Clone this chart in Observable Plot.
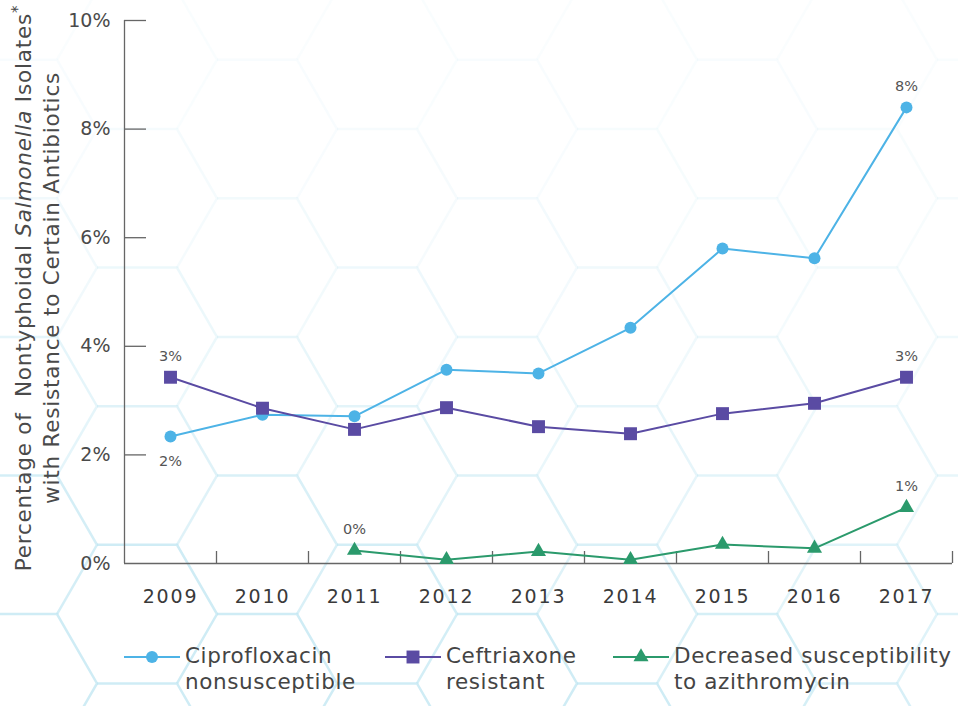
<!DOCTYPE html>
<html>
<head>
<meta charset="utf-8">
<script src="https://cdn.jsdelivr.net/npm/d3@7"></script>
<script src="https://cdn.jsdelivr.net/npm/@observablehq/plot@0.6"></script>
<style>
  body { margin: 0; background: #fff; }
  #page { position: relative; width: 958px; height: 706px; overflow: hidden; font-family: "DejaVu Sans", sans-serif; }
  #hex, #chart, #legend { position: absolute; left: 0; top: 0; }
  #legend { width: 958px; height: 706px; }
  .item { position: absolute; display: flex; align-items: flex-start; }
  .item .label { font-family: "DejaVu Sans", sans-serif; font-size: 21.5px; letter-spacing: 0.6px; line-height: 26px; color: #444; white-space: nowrap; }
</style>
</head>
<body>
<div id="page">
  <svg id="hex" width="958" height="706"></svg>
  <div id="chart"></div>
  <div id="legend"></div>
</div>
<script>
// Survey years and the share (%) of isolates in each resistance category
const years = [2009, 2010, 2011, 2012, 2013, 2014, 2015, 2016, 2017];
const ciprofloxacin = [2.34, 2.74, 2.71, 3.57, 3.50, 4.34, 5.80, 5.62, 8.40];
const ceftriaxone = [3.43, 2.86, 2.47, 2.87, 2.52, 2.39, 2.76, 2.95, 3.43];
const azithromycin = [null, null, 0.24, 0.07, 0.22, 0.07, 0.35, 0.28, 1.03];

const seriesNames = ["Ciprofloxacin nonsusceptible", "Ceftriaxone resistant", "Decreased susceptibility to azithromycin"];
const legendLines = [["Ciprofloxacin", "nonsusceptible"], ["Ceftriaxone", "resistant"], ["Decreased susceptibility", "to azithromycin"]];
const seriesColors = ["#4db3e6", "#5a4ba3", "#2b9a6c"];
const seriesSymbols = ["circle", "square", "triangle"];
const seriesRadius = [6, 7.3, 5.6];
const yTicks = [0, 2, 4, 6, 8, 10];

// Points that carry a value label: [series index, year, placement]
const labeledPoints = [
  [0, 2009, "below"], [1, 2009, "above"], [2, 2011, "above"],
  [0, 2017, "above"], [1, 2017, "above"], [2, 2017, "above"]
];

const valuesBySeries = [ciprofloxacin, ceftriaxone, azithromycin];
const rows = [];
valuesBySeries.forEach((vals, s) => {
  vals.forEach((v, i) => {
    if (v != null) rows.push({series: seriesNames[s], idx: s, year: years[i], value: v});
  });
});
const labels = labeledPoints.map(([s, yr, place]) => {
  const r = rows.find(d => d.idx === s && d.year === yr);
  return {...r, place};
});
const pct = v => d3.format(".0f")(v) + "%";
const boundaries = d3.range(years[0] - 0.5, years[years.length - 1] + 1, 1);

// Faint hexagonal backdrop, strongest toward the lower left.
// Each cell draws only its top, upper-right and lower-right edges so shared edges are drawn once.
(function drawHexes() {
  const s = 80, h = s * Math.sqrt(3) / 2;
  const svg = d3.select("#hex");
  for (let k = -7; k <= 3; k++) {
    for (let m = -1; m <= 6; m++) {
      const cx = 737 + 120 * k;
      const cy = 129 + 138.6 * m + (Math.abs(k) % 2 ? 69.3 : 0);
      const pts = [[cx - s / 2, cy - h], [cx + s / 2, cy - h], [cx + s, cy], [cx + s / 2, cy + h]];
      const t = Math.max(0, Math.min(1, cy / 706));
      const op = Math.max(0.08, Math.min(0.75, 0.08 + t * t * (1 - 0.5 * cx / 958)));
      svg.append("path")
        .attr("d", "M" + pts.join("L"))
        .attr("fill", "none")
        .attr("stroke", "#bfe6f2")
        .attr("stroke-width", 2.5)
        .attr("opacity", op);
    }
  }
})();

const plot = Plot.plot({
  width: 958,
  height: 625,
  marginLeft: 124,
  marginRight: 6,
  marginTop: 20,
  marginBottom: 62,
  style: {background: "transparent", fontFamily: "'DejaVu Sans', sans-serif", overflow: "visible"},
  x: {type: "linear", domain: [years[0] - 0.5, years[years.length - 1] + 0.5], label: null},
  y: {domain: [0, 10], label: null},
  marks: [
    Plot.ruleX(boundaries.slice(1), {stroke: "#666", strokeWidth: 1.3, insetTop: 531}),
    Plot.ruleY(yTicks.slice(1), {stroke: "#666", strokeWidth: 1.3, insetRight: 806}),
    Plot.ruleX([boundaries[0]], {stroke: "#666", strokeWidth: 1.3}),
    Plot.ruleY([0], {stroke: "#666", strokeWidth: 1.3}),
    Plot.axisY(yTicks, {label: null, tickSize: 0, tickPadding: 14, tickFormat: d => d + "%", fontSize: 19, fill: "#4a4a4a"}),
    Plot.axisX(years, {label: null, tickSize: 0, tickPadding: 26, tickFormat: d => String(d), fontSize: 19, fill: "#3a3a3a"}),
    ...seriesNames.map((name, s) =>
      Plot.line(rows.filter(d => d.idx === s), {x: "year", y: "value", stroke: seriesColors[s], strokeWidth: 2})
    ),
    ...seriesNames.map((name, s) =>
      Plot.dot(rows.filter(d => d.idx === s), {
        x: "year", y: "value", r: seriesRadius[s], symbol: seriesSymbols[s],
        fill: seriesColors[s], stroke: "none"
      })
    ),
    Plot.text(labels.filter(d => d.place === "above"), {x: "year", y: "value", text: d => pct(d.value), dy: -21, fontSize: 14.5, fill: "#555"}),
    Plot.text(labels.filter(d => d.place === "below"), {x: "year", y: "value", text: d => pct(d.value), dy: 25, fontSize: 14.5, fill: "#555"})
  ]
});
document.getElementById("chart").appendChild(plot);

// Wider tracking on the year labels
d3.select(plot).selectAll('g[aria-label="x-axis tick label"] text').style("letter-spacing", "1.8px");

// Two-line rotated y-axis title
const svgSel = d3.select(plot);
const title = svgSel.append("g").attr("transform", "translate(0,288) rotate(-90)")
  .attr("fill", "#4a4a4a").attr("font-size", 21.5).attr("text-anchor", "middle")
  .style("font-family", "'DejaVu Sans', sans-serif").style("letter-spacing", "0.8px");
const t1 = title.append("text").attr("x", 0).attr("y", 31).style("white-space", "pre");
t1.append("tspan").text("Percentage of  Nontyphoidal ");
t1.append("tspan").attr("font-style", "italic").text("Salmonella");
t1.append("tspan").text(" Isolates");
t1.append("tspan").attr("dy", -8).attr("font-size", 15).text("*");
title.append("text").attr("x", 0).attr("y", 59).text("with Resistance to Certain Antibiotics");

// Legend: short line with the series marker, then a two-line label
const legendPos = [{x0: 124, x1: 180, tx: 185}, {x0: 385, x1: 441, tx: 446}, {x0: 613, x1: 669, tx: 674}];
const legend = d3.select("#legend");
seriesNames.forEach((name, s) => {
  const p = legendPos[s];
  const w = p.x1 - p.x0;
  const sw = legend.append("svg").style("position", "absolute")
    .style("left", p.x0 + "px").style("top", "643px")
    .attr("width", w).attr("height", 26);
  sw.append("line").attr("x1", 0).attr("x2", w).attr("y1", 14).attr("y2", 14)
    .attr("stroke", seriesColors[s]).attr("stroke-width", 2);
  const sym = {circle: d3.symbolCircle, square: d3.symbolSquare, triangle: d3.symbolTriangle}[seriesSymbols[s]];
  sw.append("path").attr("transform", `translate(${w / 2},14)`)
    .attr("d", d3.symbol(sym, Math.PI * seriesRadius[s] ** 2)())
    .attr("fill", seriesColors[s]);
  const lab = legend.append("div").attr("class", "item")
    .style("left", p.tx + "px").style("top", "643px")
    .append("div").attr("class", "label");
  lab.append("div").text(legendLines[s][0]);
  lab.append("div").text(legendLines[s][1]);
});
</script>
</body>
</html>
